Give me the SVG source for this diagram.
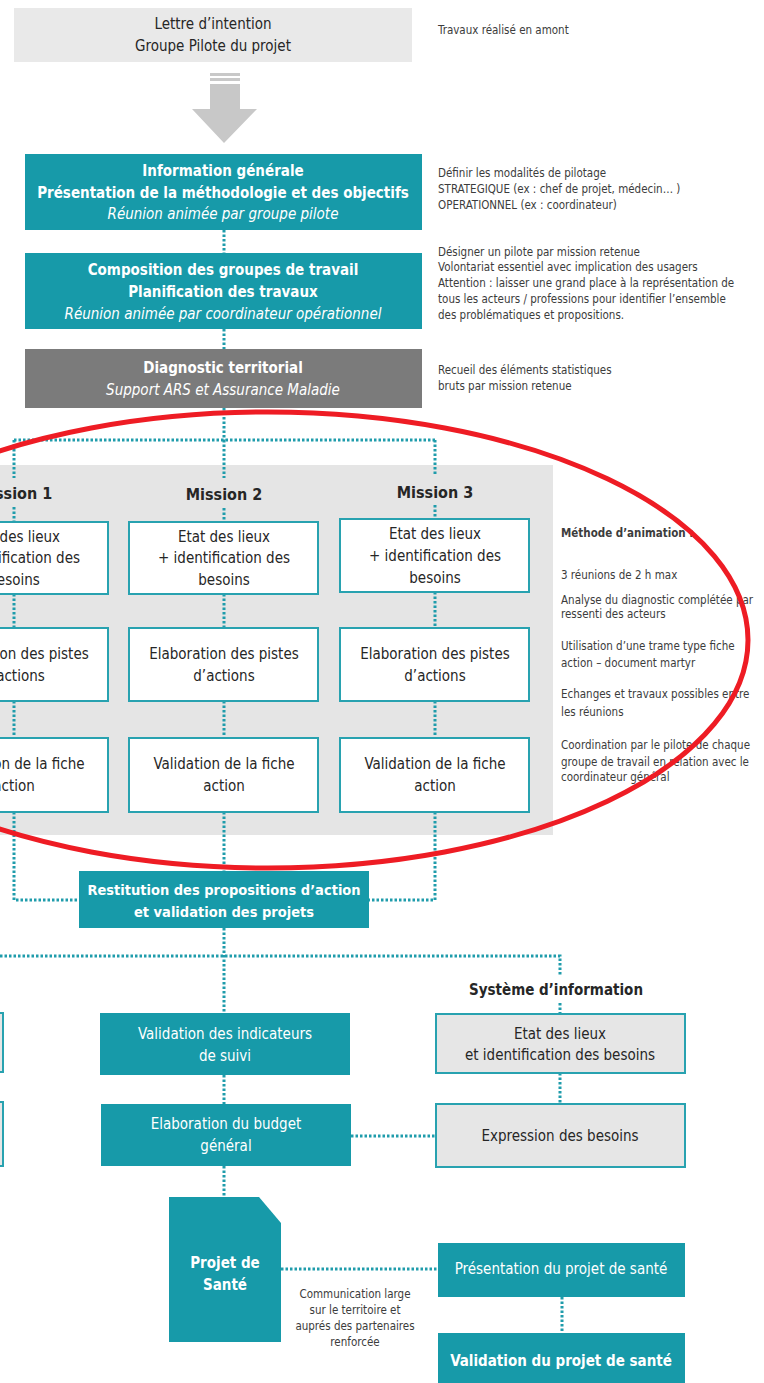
<svg xmlns="http://www.w3.org/2000/svg" width="764" height="1383" viewBox="0 0 764 1383">
<style>
text{font-family:"Liberation Sans Narrow","DejaVu Sans Condensed","Liberation Sans",sans-serif;text-anchor:middle}
.w{fill:#ffffff}
.k{fill:#262626}
.n{fill:#3c3c3c;font-size:11.5px;text-anchor:start}
.b{font-weight:bold}
.i{font-style:italic}
.f15{font-size:15px}
.teal{fill:#179aa9}
.mbox{fill:#ffffff;stroke:#28a2b0;stroke-width:2}
.gbox{fill:#e6e6e6;stroke:#28a2b0;stroke-width:2}
.dot{stroke:#1f9cab;stroke-width:3;stroke-dasharray:2.5 2;fill:none}
</style>
<rect x="-200" y="465" width="753" height="370" fill="#e5e5e5"/>
<g id="connectors">
<path class="dot" d="M224 230V253M224 329V349M224 408V440M14 440H435"/>
<path class="dot" d="M14 440V478M14 507V522M14 594V628M14 701V738M14 812V900H79"/>
<path class="dot" d="M224 440V478M224 508V522M224 594V628M224 701V738M224 812V872"/>
<path class="dot" d="M435 440V476M435 505V519M435 592V628M435 701V738M435 812V900H369"/>
<path class="dot" d="M224 928V1013M0 956H560V975M560 1003V1014M560 1073V1104M351 1136H436"/>
<path class="dot" d="M224 1075V1104M224 1166V1197M281 1269H438M562 1297V1333"/>
</g>
<g id="lettre">
<rect x="14" y="8" width="398" height="54" fill="#e9e9e9"/>
<text class="k f15" x="213" y="29">Lettre d’intention</text>
<text class="k f15" x="213" y="51">Groupe Pilote du projet</text>
</g>
<text class="n" x="438" y="34">Travaux réalisé en amont</text>
<g id="arrow" fill="#c8c8c8">
<rect x="210" y="73" width="30" height="3"/>
<rect x="210" y="78" width="30" height="3"/>
<path d="M210 84H240V109H257L224 143L192 109H210Z"/>
</g>
<g id="info">
<rect x="25" y="154" width="397" height="76" class="teal"/>
<text class="w b f15" x="223" y="176">Information générale</text>
<text class="w b f15" x="223" y="198">Présentation de la méthodologie  et des objectifs</text>
<text class="w i f15" x="223" y="219">Réunion animée par groupe pilote</text>
</g>
<text class="n" x="438" y="177">Définir les modalités de pilotage</text>
<text class="n" x="438" y="193">STRATEGIQUE (ex : chef de projet, médecin… )</text>
<text class="n" x="438" y="209">OPERATIONNEL (ex : coordinateur)</text>
<g id="composition">
<rect x="25" y="253" width="397" height="76" class="teal"/>
<text class="w b f15" x="223" y="275">Composition  des groupes de travail</text>
<text class="w b f15" x="223" y="297">Planification  des travaux</text>
<text class="w i f15" x="223" y="319">Réunion animée par coordinateur opérationnel</text>
</g>
<text class="n" x="438" y="256">Désigner un pilote  par mission retenue</text>
<text class="n" x="438" y="271">Volontariat essentiel avec implication des usagers</text>
<text class="n" x="438" y="287">Attention : laisser une grand place à la représentation de</text>
<text class="n" x="438" y="303">tous les acteurs / professions pour identifier l’ensemble</text>
<text class="n" x="438" y="319">des problématiques et propositions.</text>
<g id="diagnostic">
<rect x="25" y="349" width="397" height="59" fill="#7b7b7b"/>
<text class="w b f15" x="223" y="373">Diagnostic territorial</text>
<text class="w i f15" x="223" y="395">Support ARS et Assurance Maladie</text>
</g>
<text class="n" x="438" y="374">Recueil des éléments statistiques</text>
<text class="n" x="438" y="390">bruts par mission retenue</text>
<g id="mission1">
<text class="k b" font-size="16" x="14" y="499">Mission 1</text>
<rect class="mbox" x="-81" y="522" width="189" height="72"/>
<text class="k f15" x="14" y="542">Etat des lieux</text>
<text class="k f15" x="14" y="563">+ identification des</text>
<text class="k f15" x="14" y="585">besoins</text>
<rect class="mbox" x="-81" y="628" width="189" height="73"/>
<text class="k f15" x="14" y="659">Elaboration des pistes</text>
<text class="k f15" x="14" y="681">d’actions</text>
<rect class="mbox" x="-81" y="738" width="189" height="74"/>
<text class="k f15" x="14" y="769">Validation de la  fiche</text>
<text class="k f15" x="14" y="791">action</text>
</g>
<g id="mission2">
<text class="k b" font-size="16" x="224" y="500">Mission 2</text>
<rect class="mbox" x="129" y="522" width="189" height="72"/>
<text class="k f15" x="224" y="542">Etat des lieux</text>
<text class="k f15" x="224" y="563">+ identification des</text>
<text class="k f15" x="224" y="585">besoins</text>
<rect class="mbox" x="129" y="628" width="189" height="73"/>
<text class="k f15" x="224" y="659">Elaboration des pistes</text>
<text class="k f15" x="224" y="681">d’actions</text>
<rect class="mbox" x="129" y="738" width="189" height="74"/>
<text class="k f15" x="224" y="769">Validation de la  fiche</text>
<text class="k f15" x="224" y="791">action</text>
</g>
<g id="mission3">
<text class="k b" font-size="16" x="435" y="498">Mission 3</text>
<rect class="mbox" x="340" y="519" width="189" height="73"/>
<text class="k f15" x="435" y="539">Etat des lieux</text>
<text class="k f15" x="435" y="561">+ identification des</text>
<text class="k f15" x="435" y="583">besoins</text>
<rect class="mbox" x="340" y="628" width="189" height="73"/>
<text class="k f15" x="435" y="659">Elaboration des pistes</text>
<text class="k f15" x="435" y="681">d’actions</text>
<rect class="mbox" x="340" y="738" width="189" height="74"/>
<text class="k f15" x="435" y="769">Validation de la  fiche</text>
<text class="k f15" x="435" y="791">action</text>
</g>
<g id="methode">
<text class="n b" x="561" y="537">Méthode d’animation :</text>
<text class="n" x="561" y="579">3 réunions de 2 h max</text>
<text class="n" x="561" y="604">Analyse du diagnostic complétée par</text>
<text class="n" x="561" y="618">ressenti des acteurs</text>
<text class="n" x="561" y="650">Utilisation d’une trame type fiche</text>
<text class="n" x="561" y="667">action – document martyr</text>
<text class="n" x="561" y="698">Echanges et travaux possibles entre</text>
<text class="n" x="561" y="716">les réunions</text>
<text class="n" x="561" y="749">Coordination par le pilote de chaque</text>
<text class="n" x="561" y="766">groupe de travail en relation avec le</text>
<text class="n" x="561" y="781">coordinateur général</text>
</g>
<g id="restitution">
<rect x="79" y="871" width="290" height="57" class="teal"/>
<text class="w b" font-size="14.5" x="224" y="895">Restitution des propositions  d’action</text>
<text class="w b" font-size="14.5" x="224" y="917">et validation des projets</text>
</g>
<g id="left-boxes">
<rect class="gbox" x="-200" y="1013" width="203" height="59"/>
<rect class="gbox" x="-200" y="1102" width="203" height="64"/>
</g>
<g id="indicateurs">
<rect x="100" y="1013" width="250" height="62" class="teal"/>
<text class="w f15" x="225" y="1039">Validation des indicateurs</text>
<text class="w f15" x="225" y="1061">de suivi</text>
</g>
<g id="budget">
<rect x="101" y="1104" width="250" height="62" class="teal"/>
<text class="w f15" x="226" y="1129">Elaboration du budget</text>
<text class="w f15" x="226" y="1151">général</text>
</g>
<text class="k b" font-size="15" x="556" y="995">Système d’information</text>
<g id="si-etat">
<rect class="gbox" x="436" y="1014" width="249" height="59"/>
<text class="k f15" x="560" y="1039">Etat des lieux</text>
<text class="k f15" x="560" y="1060">et identification des besoins</text>
</g>
<g id="si-expression">
<rect class="gbox" x="436" y="1104" width="249" height="63"/>
<text class="k f15" x="560" y="1141">Expression des besoins</text>
</g>
<g id="projet">
<path d="M169 1197H259L281 1223V1342H169Z" class="teal"/>
<text class="w b f15" x="225" y="1268">Projet de</text>
<text class="w b f15" x="225" y="1290">Santé</text>
</g>
<g id="communication">
<text class="n" style="text-anchor:middle" x="355" y="1298">Communication large</text>
<text class="n" style="text-anchor:middle" x="355" y="1314">sur le territoire et</text>
<text class="n" style="text-anchor:middle" x="355" y="1330">auprés des partenaires</text>
<text class="n" style="text-anchor:middle" x="355" y="1346">renforcée</text>
</g>
<g id="presentation">
<rect x="438" y="1243" width="247" height="54" class="teal"/>
<text class="w f15" x="561" y="1274">Présentation du projet de santé</text>
</g>
<g id="validation-projet">
<rect x="438" y="1333" width="247" height="55" class="teal"/>
<text class="w b f15" x="561" y="1366">Validation du projet de santé</text>
</g>
<ellipse cx="268" cy="640" rx="480" ry="228" fill="none" stroke="#ee1c24" stroke-width="5"/>
</svg>
